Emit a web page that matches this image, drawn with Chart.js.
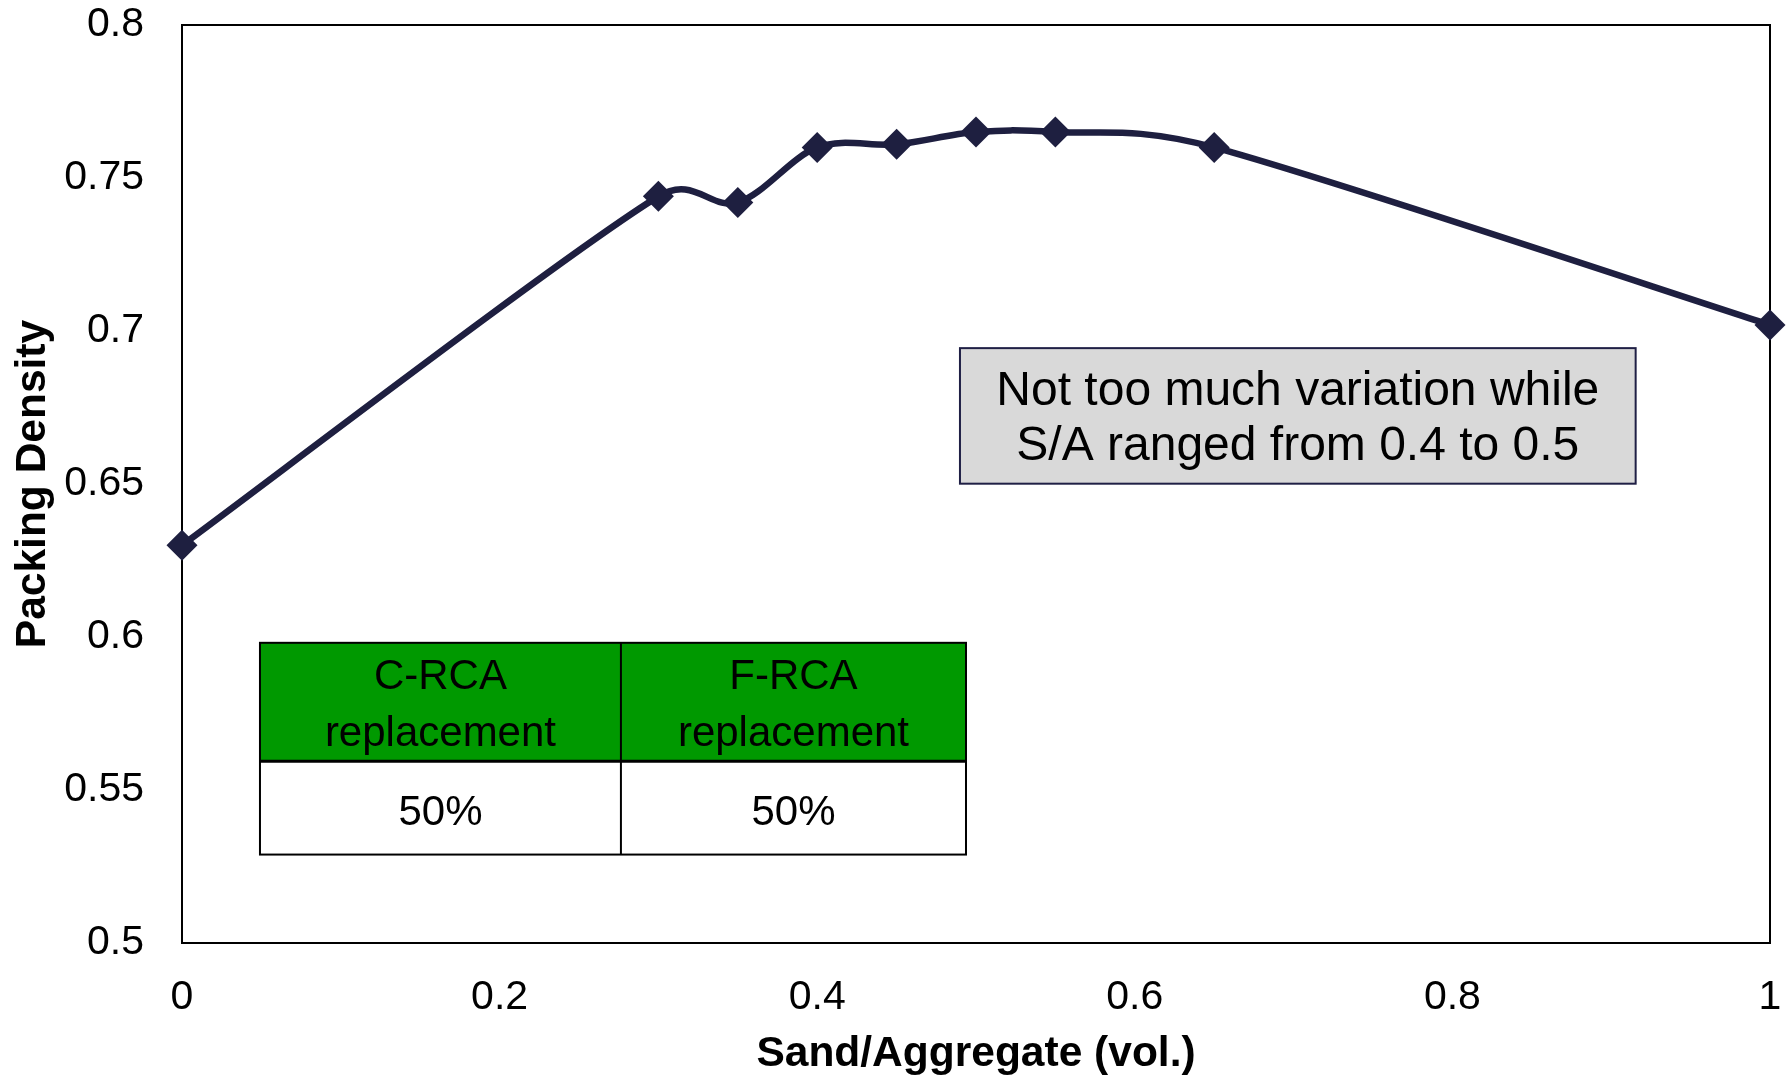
<!DOCTYPE html>
<html>
<head>
<meta charset="utf-8">
<style>
  html, body { margin: 0; padding: 0; background: #ffffff; }
  #wrap { width: 1791px; height: 1076px; position: relative; }
</style>
<script src="https://cdn.jsdelivr.net/npm/chart.js@4.4.1/dist/chart.umd.min.js"></script>
</head>
<body>
<div id="wrap"><canvas id="chart" width="1791" height="1076"></canvas></div>
<script>
// Packing density against sand/aggregate volume ratio
const sandAggregate  = [0, 0.3, 0.35, 0.4, 0.45, 0.5, 0.55, 0.65, 1];
const packingDensity = [0.630, 0.744, 0.742, 0.760, 0.761, 0.765, 0.765, 0.760, 0.702];

const xTickLabels = ['0', '0.2', '0.4', '0.6', '0.8', '1'];
const yTickLabels = ['0.5', '0.55', '0.6', '0.65', '0.7', '0.75', '0.8'];

// Mix description table and note
const tableHeader = [['C-RCA', 'replacement'], ['F-RCA', 'replacement']];
const tableValues = ['50%', '50%'];
const noteLines = ['Not too much variation while', 'S/A ranged from 0.4 to 0.5'];

const FONT = '"Liberation Sans", Arial, Helvetica, sans-serif';
const LINE_COLOR = '#1e1f40';

// Spreadsheet-style smoothing: Catmull-Rom tangents (next - prev) / 6,
// each handle limited to about half of the segment it bends into.
const smoothPlugin = {
  id: 'smoothLine',
  beforeDatasetDraw(chart, args) {
    const meta = args.meta;
    const line = meta.dataset;
    if (!line) return;
    if (typeof line.updateControlPoints === 'function') {
      line.updateControlPoints(chart.chartArea, 'x');
    }
    const pts = meta.data;
    const n = pts.length;
    const limit = 0.52;
    for (let i = 0; i < n; i++) {
      const p = pts[i];
      const prev = pts[i - 1] || p;
      const next = pts[i + 1] || p;
      const dx = (next.x - prev.x) / 6;
      const dy = (next.y - prev.y) / 6;
      const len = Math.hypot(dx, dy) || 1;
      const segPrev = Math.hypot(p.x - prev.x, p.y - prev.y);
      const segNext = Math.hypot(next.x - p.x, next.y - p.y);
      const kPrev = i > 0 ? Math.min(1, (limit * segPrev) / len) : 0;
      const kNext = i < n - 1 ? Math.min(1, (limit * segNext) / len) : 0;
      p.cp1x = p.x - dx * kPrev;
      p.cp1y = p.y - dy * kPrev;
      p.cp2x = p.x + dx * kNext;
      p.cp2y = p.y + dy * kNext;
    }
    line._path = undefined;
  }
};

// Frame around the plot area, drawn under the series
const framePlugin = {
  id: 'plotFrame',
  beforeDatasetsDraw(chart) {
    const { ctx, chartArea: a } = chart;
    ctx.save();
    ctx.strokeStyle = '#000000';
    ctx.lineWidth = 2;
    ctx.strokeRect(a.left, a.top, a.right - a.left, a.bottom - a.top);
    ctx.restore();
  }
};

// Table of replacement levels and the note box, placed in axis units
const notesPlugin = {
  id: 'notes',
  afterDatasetsDraw(chart) {
    const { ctx } = chart;
    const xs = chart.scales.x, ys = chart.scales.y;
    const px = v => xs.getPixelForValue(v);
    const py = v => ys.getPixelForValue(v);
    const textShift = 3.5;

    // table
    const tx0 = px(0.0491), tx1 = px(0.2764), tx2 = px(0.4937);
    const ty0 = py(0.5981), ty1 = py(0.5594), ty2 = py(0.5289);
    ctx.save();
    ctx.fillStyle = '#009900';
    ctx.fillRect(tx0, ty0, tx2 - tx0, ty1 - ty0);
    ctx.fillStyle = '#ffffff';
    ctx.fillRect(tx0, ty1, tx2 - tx0, ty2 - ty1);
    ctx.strokeStyle = '#000000';
    ctx.lineWidth = 2;
    ctx.strokeRect(tx0, ty0, tx2 - tx0, ty2 - ty0);
    ctx.beginPath();
    ctx.moveTo(tx1, ty0); ctx.lineTo(tx1, ty2);
    ctx.stroke();
    ctx.lineWidth = 3;
    ctx.beginPath();
    ctx.moveTo(tx0, ty1); ctx.lineTo(tx2, ty1);
    ctx.stroke();

    ctx.fillStyle = '#000000';
    ctx.textAlign = 'center';
    ctx.textBaseline = 'middle';
    ctx.font = '42px ' + FONT;
    const cols = [[tx0, tx1], [tx1, tx2]];
    cols.forEach((c, i) => {
      const cx = (c[0] + c[1]) / 2;
      const hy = (ty0 + ty1) / 2 + textShift;
      const lines = tableHeader[i];
      const lh = 57;
      lines.forEach((t, j) => {
        ctx.fillText(t, cx, hy + (j - (lines.length - 1) / 2) * lh);
      });
      ctx.fillText(tableValues[i], cx, (ty1 + ty2) / 2 + 2 + textShift);
    });

    // note box
    const bx0 = px(0.4899), bx1 = px(0.9154);
    const by0 = py(0.6944), by1 = py(0.6501);
    ctx.fillStyle = '#d9d9d9';
    ctx.fillRect(bx0, by0, bx1 - bx0, by1 - by0);
    ctx.strokeStyle = '#1f1f45';
    ctx.lineWidth = 2;
    ctx.strokeRect(bx0, by0, bx1 - bx0, by1 - by0);
    ctx.fillStyle = '#000000';
    ctx.font = '48px ' + FONT;
    const bcx = (bx0 + bx1) / 2, bcy = (by0 + by1) / 2 + textShift;
    const nlh = 55;
    noteLines.forEach((t, j) => {
      ctx.fillText(t, bcx, bcy + (j - (noteLines.length - 1) / 2) * nlh);
    });
    ctx.restore();
  }
};

// Keep the plot area fixed: no extra room reserved for overhanging tick labels
function noOverhang(scale) {
  scale.paddingTop = 0;
  scale.paddingBottom = 0;
  scale.paddingLeft = 0;
  scale.paddingRight = 0;
}

new Chart(document.getElementById('chart'), {
  type: 'line',
  data: {
    datasets: [{
      data: sandAggregate.map((x, i) => ({ x, y: packingDensity[i] })),
      borderColor: LINE_COLOR,
      backgroundColor: LINE_COLOR,
      borderWidth: 6.5,
      tension: 0.4,
      pointStyle: 'rectRot',
      pointRadius: 15.5,
      pointBorderWidth: 0,
      pointBackgroundColor: LINE_COLOR,
      pointBorderColor: LINE_COLOR,
      clip: false,
      fill: false
    }]
  },
  options: {
    responsive: false,
    animation: false,
    devicePixelRatio: 1,
    layout: { padding: { left: 0, right: 21, top: 25, bottom: 0 } },
    plugins: {
      legend: { display: false },
      tooltip: { enabled: false }
    },
    scales: {
      x: {
        type: 'linear',
        min: 0,
        max: 1,
        grid: { display: false, drawTicks: false, tickLength: 0 },
        border: { display: false },
        ticks: {
          stepSize: 0.2,
          maxRotation: 0,
          autoSkip: false,
          padding: 30,
          color: '#000000',
          font: { family: FONT, size: 41 },
          callback: (v, i) => xTickLabels[i]
        },
        title: {
          display: true,
          text: 'Sand/Aggregate (vol.)',
          color: '#000000',
          font: { family: FONT, size: 42.5, weight: 'bold', lineHeight: 1.04 },
          padding: 0
        },
        afterFit(scale) { scale.height = 133; noOverhang(scale); }
      },
      y: {
        type: 'linear',
        min: 0.5,
        max: 0.8,
        grid: { display: false, drawTicks: false, tickLength: 0 },
        border: { display: false },
        ticks: {
          stepSize: 0.05,
          padding: 38,
          color: '#000000',
          font: { family: FONT, size: 41 },
          callback: (v, i) => yTickLabels[i]
        },
        title: {
          display: true,
          text: 'Packing Density',
          color: '#000000',
          font: { family: FONT, size: 42.5, weight: 'bold', lineHeight: 1.2 },
          padding: { top: 8, bottom: 0 }
        },
        afterFit(scale) { scale.width = 182; noOverhang(scale); }
      }
    }
  },
  plugins: [smoothPlugin, framePlugin, notesPlugin]
});
</script>
</body>
</html>
